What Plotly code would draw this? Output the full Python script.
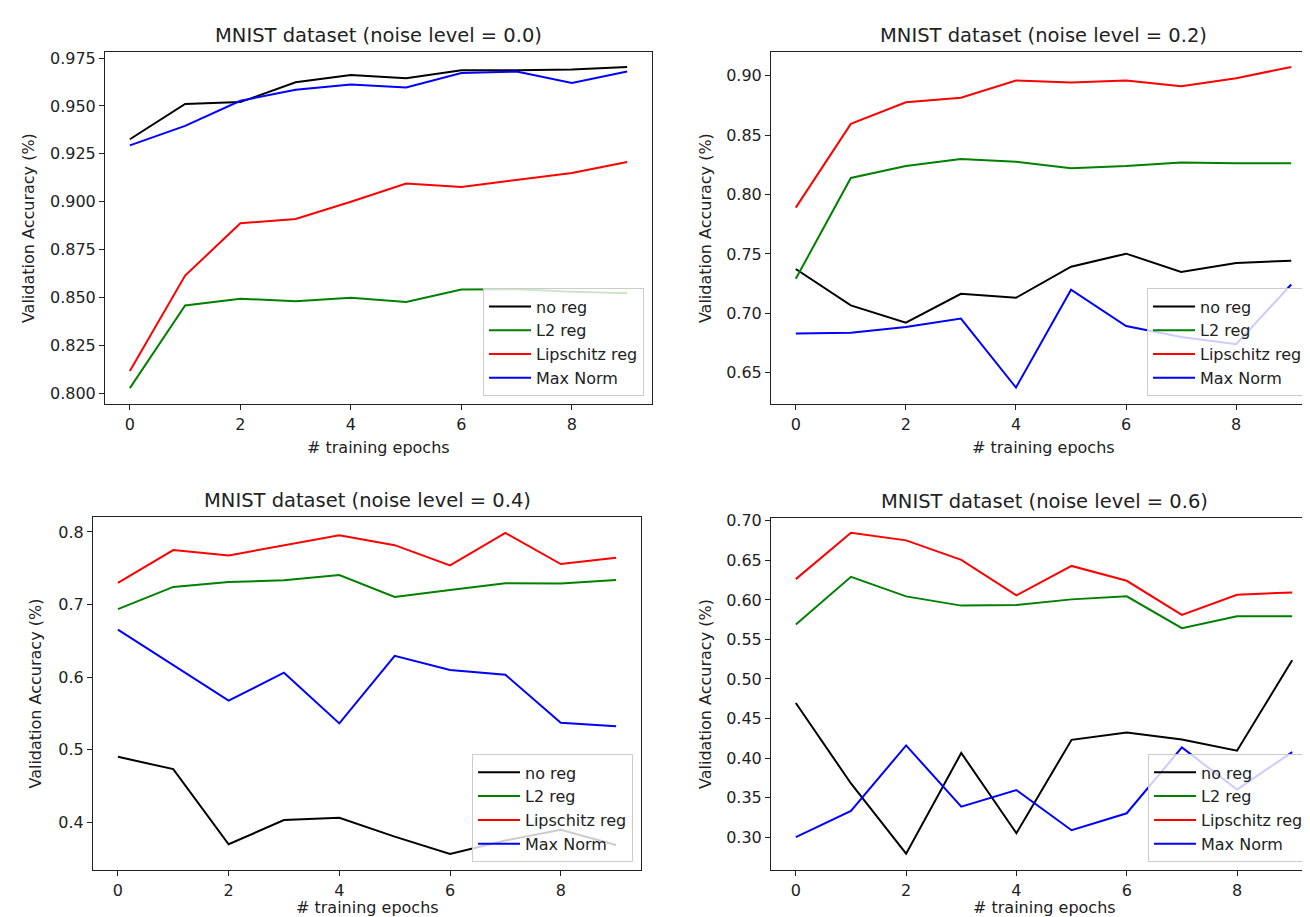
import plotly.graph_objects as go

W, H = 1310, 917

epochs = list(range(10))

series_names = ["no reg", "L2 reg", "Lipschitz reg", "Max Norm"]
series_colors = ["#000000", "#008000", "#ff0000", "#0000ff"]

noise_levels = ["0.0", "0.2", "0.4", "0.6"]

n00_noreg = [0.9326, 0.9510, 0.9520, 0.9624, 0.9662, 0.9645, 0.9686, 0.9686, 0.9690, 0.9703]
n00_l2 = [0.8026, 0.8458, 0.8493, 0.8480, 0.8498, 0.8476, 0.8541, 0.8543, 0.8530, 0.8522]
n00_lip = [0.8116, 0.8614, 0.8887, 0.8910, 0.9000, 0.9095, 0.9077, 0.9115, 0.9150, 0.9207]
n00_max = [0.9294, 0.9396, 0.9527, 0.9584, 0.9612, 0.9596, 0.9672, 0.9680, 0.9620, 0.9680]

n02_noreg = [0.7373, 0.7066, 0.6921, 0.7164, 0.7130, 0.7392, 0.7502, 0.7348, 0.7424, 0.7443]
n02_l2 = [0.7290, 0.8140, 0.8240, 0.8300, 0.8277, 0.8222, 0.8240, 0.8269, 0.8263, 0.8263]
n02_lip = [0.7890, 0.8595, 0.8777, 0.8816, 0.8961, 0.8944, 0.8961, 0.8913, 0.8980, 0.9075]
n02_max = [0.6829, 0.6835, 0.6885, 0.6955, 0.6374, 0.7198, 0.6893, 0.6800, 0.6740, 0.7242]

n04_noreg = [0.4903, 0.4734, 0.3699, 0.4032, 0.4064, 0.3804, 0.3567, 0.3750, 0.3900, 0.3690]
n04_l2 = [0.6937, 0.7243, 0.7311, 0.7334, 0.7407, 0.7106, 0.7202, 0.7293, 0.7289, 0.7339]
n04_lip = [0.7300, 0.7750, 0.7676, 0.7818, 0.7954, 0.7818, 0.7540, 0.7986, 0.7558, 0.7644]
n04_max = [0.6655, 0.6170, 0.5678, 0.6062, 0.5364, 0.6294, 0.6098, 0.6034, 0.5373, 0.5323]

n06_noreg = [0.4696, 0.3679, 0.2791, 0.4064, 0.3050, 0.4231, 0.4324, 0.4236, 0.4093, 0.5237]
n06_l2 = [0.5689, 0.6292, 0.6045, 0.5928, 0.5936, 0.6007, 0.6045, 0.5643, 0.5794, 0.5794]
n06_lip = [0.6263, 0.6849, 0.6753, 0.6506, 0.6058, 0.6430, 0.6242, 0.5810, 0.6066, 0.6095]
n06_max = [0.3000, 0.3331, 0.4160, 0.3385, 0.3595, 0.3088, 0.3302, 0.4135, 0.3603, 0.4076]

panel_data = [
    [n00_noreg, n00_l2, n00_lip, n00_max],
    [n02_noreg, n02_l2, n02_lip, n02_max],
    [n04_noreg, n04_l2, n04_lip, n04_max],
    [n06_noreg, n06_l2, n06_lip, n06_max],
]

x_ticks = [0, 2, 4, 6, 8]
y_ticks = [
    [0.800, 0.825, 0.850, 0.875, 0.900, 0.925, 0.950, 0.975],
    [0.65, 0.70, 0.75, 0.80, 0.85, 0.90],
    [0.4, 0.5, 0.6, 0.7, 0.8],
    [0.30, 0.35, 0.40, 0.45, 0.50, 0.55, 0.60, 0.65, 0.70],
]
y_formats = [".3f", ".2f", ".1f", ".2f"]
y_ranges = [[0.7941, 0.9783], [0.6232, 0.9203], [0.334, 0.821], [0.258, 0.704]]

# panel boxes in pixels: (left, top, right, bottom)
boxes = [(97, 38, 644, 393), (763, 38, 1308, 393), (85, 506, 633, 862), (763, 507, 1309, 862)]
ylabel_x = [20, 697, 28, 697]
xlabel_off = [43, 43, 37, 37]

FONT = "DejaVu Sans"
TXT = "#222222"

def px(x):
    return x / W

def py(y):
    return 1 - y / H

fig = go.Figure()
annotations = []
layout = dict(
    width=W, height=H, autosize=False,
    margin=dict(l=0, r=0, t=0, b=0),
    paper_bgcolor="white", plot_bgcolor="white",
    font=dict(family=FONT, size=16, color=TXT),
)

for i in range(4):
    sfx = "" if i == 0 else str(i + 1)
    l, t, r, b = boxes[i]
    legname = "legend" if i == 0 else f"legend{i + 1}"
    for j in range(4):
        fig.add_trace(go.Scatter(
            x=epochs, y=panel_data[i][j], mode="lines",
            name=series_names[j],
            line=dict(color=series_colors[j], width=2),
            xaxis="x" + sfx, yaxis="y" + sfx,
            legend=legname,
        ))
    axcommon = dict(
        showgrid=False, zeroline=False, showline=True, linecolor="#222222",
        linewidth=1, mirror=True, ticks="outside", ticklen=5, tickwidth=1,
        tickcolor="#222222", tickfont=dict(family=FONT, size=16, color=TXT),
    )
    layout["xaxis" + sfx] = dict(
        axcommon, domain=[px(l), px(r)], range=[-0.45, 9.45],
        tickvals=x_ticks, anchor="y" + sfx,
    )
    layout["yaxis" + sfx] = dict(
        axcommon, domain=[py(b), py(t)], range=y_ranges[i],
        tickvals=y_ticks[i], tickformat=y_formats[i], anchor="x" + sfx,
    )
    layout[legname] = dict(
        x=px(r - 8), y=py(b - 8), xanchor="right", yanchor="bottom",
        xref="paper", yref="paper",
        bgcolor="rgba(255,255,255,0.8)", bordercolor="#cccccc", borderwidth=1,
        font=dict(family=FONT, size=16, color=TXT),
        tracegroupgap=0, itemwidth=42,
    )
    cx = (l + r) / 2
    annotations.append(dict(
        text=f"MNIST dataset (noise level = {noise_levels[i]})",
        x=px(cx), y=py(t - 16), xref="paper", yref="paper",
        xanchor="center", yanchor="middle", showarrow=False,
        font=dict(family=FONT, size=19.5, color=TXT),
    ))
    annotations.append(dict(
        text="# training epochs",
        x=px(cx), y=py(b + xlabel_off[i]), xref="paper", yref="paper",
        xanchor="center", yanchor="middle", showarrow=False,
        font=dict(family=FONT, size=16, color=TXT),
    ))
    annotations.append(dict(
        text="Validation Accuracy (%)",
        x=px(ylabel_x[i]), y=py((t + b) / 2), xref="paper", yref="paper",
        xanchor="center", yanchor="middle", showarrow=False, textangle=-90,
        font=dict(family=FONT, size=16, color=TXT),
    ))

layout["annotations"] = annotations
fig.update_layout(**layout)
fig.write_html("out.html")
